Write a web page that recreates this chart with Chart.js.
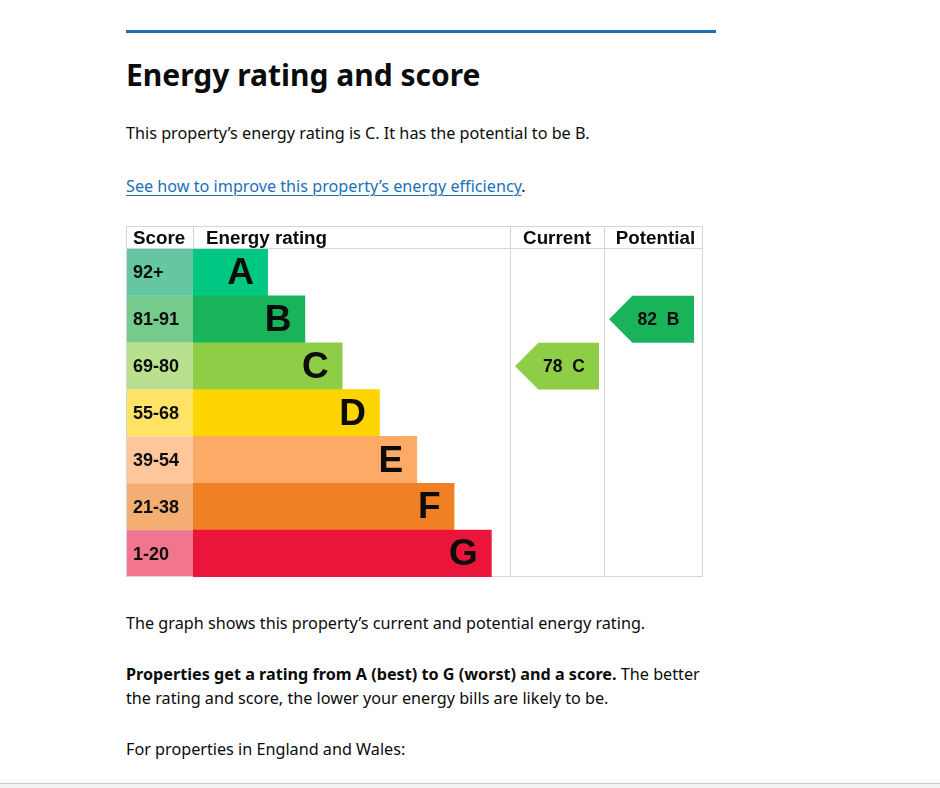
<!DOCTYPE html>
<html>
<head>
<meta charset="utf-8">
<script src="https://cdn.jsdelivr.net/npm/chart.js@4/dist/chart.umd.min.js"></script>
<style>
  html, body { margin: 0; padding: 0; background: #fff; width: 940px; height: 788px; overflow: hidden; }
  body { position: relative; font-family: "Noto Sans", Arial, sans-serif; color: #0b0c0c; }
  .rule { position: absolute; left: 126px; top: 30px; width: 590px; height: 3px; background: #1d70b8; }
  .t { position: absolute; left: 126px; white-space: nowrap; }
  h1 { margin: 0; font-size: 30px; font-weight: 700; letter-spacing: 0; }
  .p { font-size: 16.2px; line-height: 24px; }
  a { color: #1d70b8; text-decoration: underline; text-underline-offset: 3px; text-decoration-thickness: 1px; }
  #wrap { position: absolute; left: 126px; top: 226px; width: 577px; height: 351px; }
  .foot { position: absolute; left: 0; top: 783px; width: 940px; height: 5px; border-top: 1px solid #cccccc; background: #f3f3f3; }
</style>
</head>
<body>
<div class="rule"></div>
<div class="t" style="top:54px"><h1>Energy rating and score</h1></div>
<div class="t p" style="top:121px">This property’s energy rating is C. It has the potential to be B.</div>
<div class="t p" style="top:174px"><a href="#">See how to improve this property’s energy efficiency</a>.</div>
<div id="wrap"><canvas id="c" width="577" height="351"></canvas></div>
<div class="t p" style="top:611px">The graph shows this property’s current and potential energy rating.</div>
<div class="t p" style="top:662px"><b>Properties get a rating from A (best) to G (worst) and a score.</b> The better<br>the rating and score, the lower your energy bills are likely to be.</div>
<div class="t p" style="top:737px">For properties in England and Wales:</div>
<div class="foot"></div>
<script>
const ratings = ['A', 'B', 'C', 'D', 'E', 'F', 'G'];
const scoreBands = ['92+', '81-91', '69-80', '55-68', '39-54', '21-38', '1-20'];
const barLengths = [2, 3, 4, 5, 6, 7, 8];
const barColors = ['#00c781', '#19b459', '#8dce46', '#ffd500', '#fcaa65', '#ef8023', '#e9153b'];
const scoreColors = ['#64c7a1', '#74cb8b', '#b9e08e', '#ffe366', '#fec69b', '#f4ad73', '#f2758f'];
const columnHeaders = ['Score', 'Energy rating', 'Current', 'Potential'];
const currentScore = 78, currentRating = 'C';
const potentialScore = 82, potentialRating = 'B';

const LINE = '#d6d6d6';
const SCORE_W = 67, CUR_W = 94;

const epcPlugin = {
  id: 'epc',
  beforeDatasetsDraw(chart) {
    const { ctx, chartArea: ca, scales: { y } } = chart;
    const W = chart.width;
    const rowH = (ca.bottom - ca.top) / ratings.length;
    ctx.save();
    ratings.forEach((r, i) => {
      const cy = y.getPixelForValue(i);
      ctx.fillStyle = scoreColors[i];
      ctx.fillRect(0, cy - rowH / 2, ca.left, rowH);
      ctx.fillStyle = '#0b0c0c';
      ctx.font = 'bold 18px "Liberation Sans", Arial, sans-serif';
      ctx.textAlign = 'left';
      ctx.textBaseline = 'middle';
      ctx.fillText(scoreBands[i], 7, cy + 1);
    });
    ctx.strokeStyle = LINE;
    ctx.lineWidth = 1;
    ctx.beginPath();
    ctx.rect(0.5, 0.5, W - 1, chart.height - 1);
    ctx.moveTo(0, ca.top - 0.5); ctx.lineTo(W, ca.top - 0.5);
    ctx.moveTo(ca.left + 0.5, 0); ctx.lineTo(ca.left + 0.5, ca.top);
    ctx.moveTo(ca.right + 0.5, 0); ctx.lineTo(ca.right + 0.5, chart.height);
    ctx.moveTo(ca.right + CUR_W + 0.5, 0); ctx.lineTo(ca.right + CUR_W + 0.5, chart.height);
    ctx.stroke();
    ctx.fillStyle = '#0b0c0c';
    ctx.font = 'bold 18.8px "Liberation Sans", Arial, sans-serif';
    ctx.textBaseline = 'alphabetic';
    const hb = ca.top - 5;
    ctx.textAlign = 'left';
    ctx.fillText(columnHeaders[0], 7, hb);
    ctx.fillText(columnHeaders[1], ca.left + 13, hb);
    ctx.textAlign = 'center';
    ctx.fillText(columnHeaders[2], ca.right + CUR_W / 2, hb);
    ctx.fillText(columnHeaders[3], (ca.right + CUR_W + W) / 2 + 2, hb);
    ctx.restore();
  },
  afterDatasetsDraw(chart) {
    const { ctx, chartArea: ca, scales: { y } } = chart;
    const rowH = (ca.bottom - ca.top) / ratings.length;
    const meta = chart.getDatasetMeta(0);
    ctx.save();
    ctx.fillStyle = '#0b0c0c';
    ctx.font = 'bold 37px "Liberation Sans", Arial, sans-serif';
    ctx.textAlign = 'right';
    ctx.textBaseline = 'middle';
    meta.data.forEach((bar, i) => {
      ctx.fillText(ratings[i], bar.x - 13.5, bar.y + 1.5);
    });
    const drawArrow = (left, width, rating, score) => {
      const i = ratings.indexOf(rating);
      const cy = y.getPixelForValue(i);
      const h = rowH / 2;
      const tip = left, right = left + width, sh = left + h;
      ctx.fillStyle = barColors[i];
      ctx.beginPath();
      ctx.moveTo(tip, cy);
      ctx.lineTo(sh, cy - h);
      ctx.lineTo(right, cy - h);
      ctx.lineTo(right, cy + h);
      ctx.lineTo(sh, cy + h);
      ctx.closePath();
      ctx.fill();
      ctx.fillStyle = '#0b0c0c';
      ctx.font = 'bold 17.5px "Liberation Sans", Arial, sans-serif';
      ctx.textAlign = 'center';
      ctx.textBaseline = 'middle';
      ctx.fillText(score + '  ' + rating, (tip + right) / 2 + 7, cy + 1);
    };
    drawArrow(ca.right + 5, 84, currentRating, currentScore);
    drawArrow(ca.right + CUR_W + 5, 85, potentialRating, potentialScore);
    ctx.restore();
  }
};

new Chart(document.getElementById('c'), {
  type: 'bar',
  data: {
    labels: ratings,
    datasets: [{
      data: barLengths,
      backgroundColor: barColors,
      borderWidth: 0,
      categoryPercentage: 1,
      barPercentage: 1
    }]
  },
  options: {
    indexAxis: 'y',
    responsive: false,
    animation: false,
    devicePixelRatio: 1,
    layout: { padding: { left: SCORE_W, right: 193, top: 23, bottom: 0 } },
    scales: {
      x: { display: false, min: 0, max: 8.5 },
      y: { display: false }
    },
    plugins: { legend: { display: false }, tooltip: { enabled: false } }
  },
  plugins: [epcPlugin]
});
</script>
</body>
</html>
